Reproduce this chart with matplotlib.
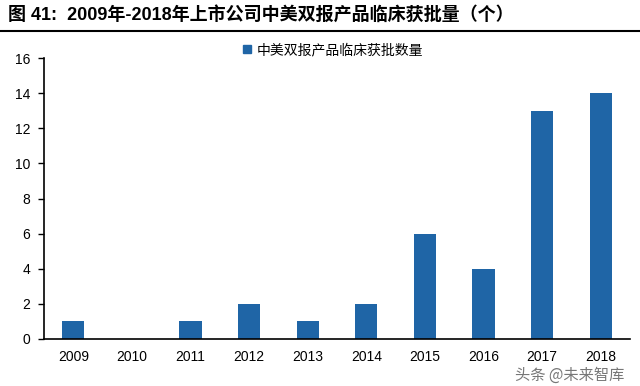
import matplotlib
matplotlib.use("Agg")
import matplotlib.pyplot as plt
from matplotlib.lines import Line2D

plt.rcParams['font.family'] = ['Liberation Sans', 'Noto Sans CJK SC', 'DejaVu Sans']

years = ['2009', '2010', '2011', '2012', '2013', '2014', '2015', '2016', '2017', '2018']
counts = [1, 0, 1, 2, 1, 2, 6, 4, 13, 14]
series_name = '中美双报产品临床获批数量'
title = '图 41:  2009年-2018年上市公司中美双报产品临床获批量（个）'
yticks = [0, 2, 4, 6, 8, 10, 12, 14, 16]

bar_color = '#1f65a6'

fig = plt.figure(figsize=(6.4, 3.86), dpi=100)
ax = fig.add_axes([44/640, 1-339/386, (630-44)/640, (339-58)/386])

x = list(range(len(years)))
ax.bar(x, counts, width=0.38, color=bar_color, zorder=2)
ax.set_xlim(-0.5, len(years) - 0.5)
ax.set_ylim(0, 16)
ax.set_yticks(yticks)
ax.set_yticklabels([str(v) for v in yticks], fontsize=10)
ax.set_xticks(x)
ax.set_xticklabels(years, fontsize=10)
ax.tick_params(axis='x', length=0, pad=8)
ax.tick_params(axis='y', length=4, width=1, direction='out', pad=6)
for s in ['top', 'right']:
    ax.spines[s].set_visible(False)
ax.spines['left'].set_linewidth(1.2)
ax.spines['bottom'].set_linewidth(1.2)

handle = Line2D([], [], marker='s', linestyle='none', markersize=6,
                markerfacecolor=bar_color, markeredgecolor=bar_color)
fig.legend([handle], [series_name], loc='center', bbox_to_anchor=(332/640, 1-50/386),
           frameon=False, prop={'family': ['Noto Sans CJK SC'], 'size': 10},
           handletextpad=0.2, borderpad=0, handlelength=1)

fig.text(8/640, 1-15/386, title, fontsize=13, fontweight='bold',
         family=['Liberation Sans', 'Noto Sans CJK SC'], va='center', ha='left')
fig.add_artist(Line2D([0, 1], [1-31/386, 1-31/386], color='black', linewidth=1.5,
                      transform=fig.transFigure))

fig.text(515/640, 1-375/386, '头条 @未来智库', fontsize=11, color='#555555',
         family=['Noto Sans CJK SC'], va='center', ha='left', alpha=0.8)

fig.savefig('out.png', dpi=100)
